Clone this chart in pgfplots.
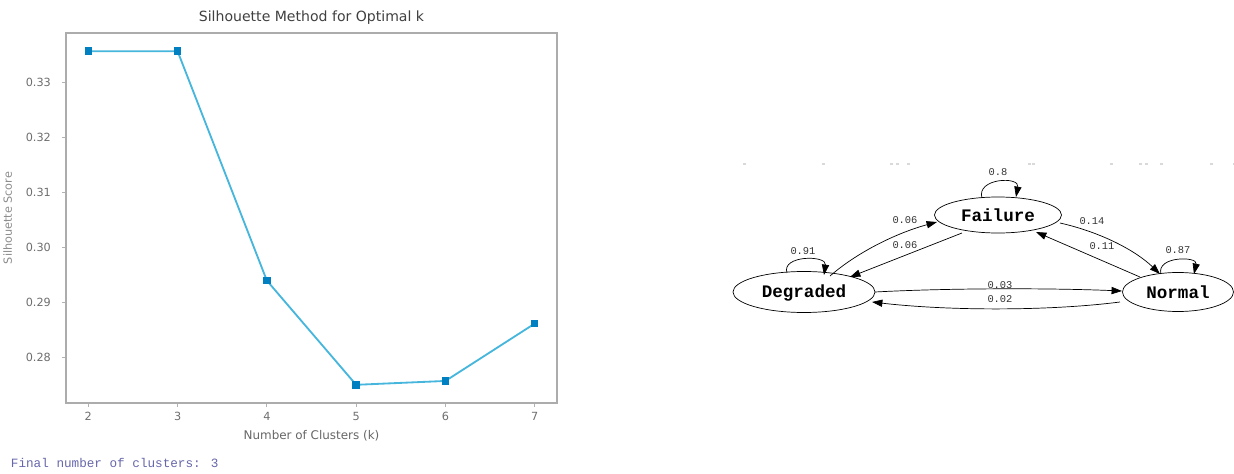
\documentclass[border=0pt]{standalone}
\usepackage{fontspec}
\setmainfont{DejaVu Sans}
\newfontfamily\monofont{Liberation Mono}
\usepackage{pgfplots}
\pgfplotsset{compat=1.18}
\usetikzlibrary{arrows.meta}
\definecolor{linec}{RGB}{70,182,220}
\definecolor{markc}{RGB}{0,128,192}
\definecolor{tickc}{RGB}{110,110,110}
\begin{document}
\begin{tikzpicture}
\path[use as bounding box] (0,0) rectangle (308.5mm,-118.25mm);
\begin{axis}[
  at={(16.5mm,-100.75mm)}, anchor=south west,
  scale only axis, width=122.75mm, height=92.5mm,
  xmin=1.75, xmax=7.25, ymin=0.2718, ymax=0.3389,
  xtick={2,3,4,5,6,7},
  ytick={0.28,0.29,0.30,0.31,0.32,0.33},
  /pgf/number format/assume math mode=true,
  tick align=outside, tick pos=left,
  major tick length=3pt,
  tick style={gray!60, line width=0.6pt},
  axis line style={gray!65, line width=1.2pt},
  ticklabel style={font=\fontsize{8}{9}\selectfont, text=tickc},
  yticklabel style={xshift=-1.5mm, /pgf/number format/.cd, fixed, precision=2, zerofill},
  title={Silhouette Method for Optimal k},
  title style={font=\fontsize{10}{12}\selectfont, text=black!75, yshift=-3.5pt},
  xlabel={Number of Clusters (k)},
  ylabel={Silhouette Score},
  xlabel style={font=\fontsize{8.5}{10}\selectfont, text=black!60},
  ylabel style={font=\fontsize{8}{10}\selectfont, text=black!45, yshift=1mm},
]
\addplot[color=linec, line width=1.3pt, mark=square*, mark size=2pt,
  mark options={fill=markc, draw=markc}] coordinates {
  (2,0.3356) (3,0.3356) (4,0.2940) (5,0.2751) (6,0.2758) (7,0.2862)
};
\end{axis}
\begin{scope}[x=0.25mm, y=-0.25mm]
  \node[anchor=west, font=\monofont\fontsize{9}{10}\selectfont, text=black!55!blue!60] at (6,463) {Final number of clusters: 3};
  % faint specks of a cut-off line
  \foreach \xx in {743,822,890,896,907,1028,1032,1110,1139,1145,1160,1210,1233}
    \fill[gray!30] (\xx,163) rectangle ++(3,1.5);
  % nodes
  \draw[line width=0.5pt] (998,215) ellipse [x radius=15.875mm, y radius=4.5mm];
  \draw[line width=0.5pt] (804,292) ellipse [x radius=17.75mm, y radius=5.125mm];
  \draw[line width=0.5pt] (1178,292) ellipse [x radius=13.875mm, y radius=4.875mm];
  \node[font=\monofont\bfseries\fontsize{12.5}{14}\selectfont] at (998,215) {Failure};
  \node[font=\monofont\bfseries\fontsize{12.5}{14}\selectfont] at (804,293) {Degraded};
  \node[font=\monofont\bfseries\fontsize{12.5}{14}\selectfont] at (1178,292) {Normal};
  \tikzset{arr/.style={line width=0.5pt, -{Triangle[length=2.6mm, width=1.8mm]}}}
  % self loops
  \draw[arr] (982,198) .. controls (976,178) and (1020,176) .. (1016,197);
  \draw[arr] (787,273) .. controls (781,255) and (827,255) .. (824,275);
  \draw[arr] (1161,274) .. controls (1156,256) and (1198,256) .. (1194,274);
  % edges
  \draw[arr] (830,276) .. controls (860,250) and (900,232) .. (937,222);
  \draw[arr] (962,233) -- (850,277);
  \draw[arr] (1060,223) .. controls (1100,232) and (1135,250) .. (1160,274);
  \draw[arr] (1140,277) -- (1036,232);
  \draw[arr] (875,292) .. controls (950,288) and (1050,288) .. (1122,291);
  \draw[arr] (1120,302) .. controls (1050,311) and (950,311) .. (872,302);
  % labels
  \tikzset{el/.style={font=\monofont\fontsize{7.4}{8}\selectfont, text=black!80}}
  \node[el] at (998,172) {0.8};
  \node[el] at (803,251) {0.91};
  \node[el] at (1178,250) {0.87};
  \node[el] at (905,220) {0.06};
  \node[el] at (905,245) {0.06};
  \node[el] at (1092,221) {0.14};
  \node[el] at (1102,246) {0.11};
  \node[el] at (1000,285) {0.03};
  \node[el] at (1000,299) {0.02};
\end{scope}
\end{tikzpicture}
\end{document}
